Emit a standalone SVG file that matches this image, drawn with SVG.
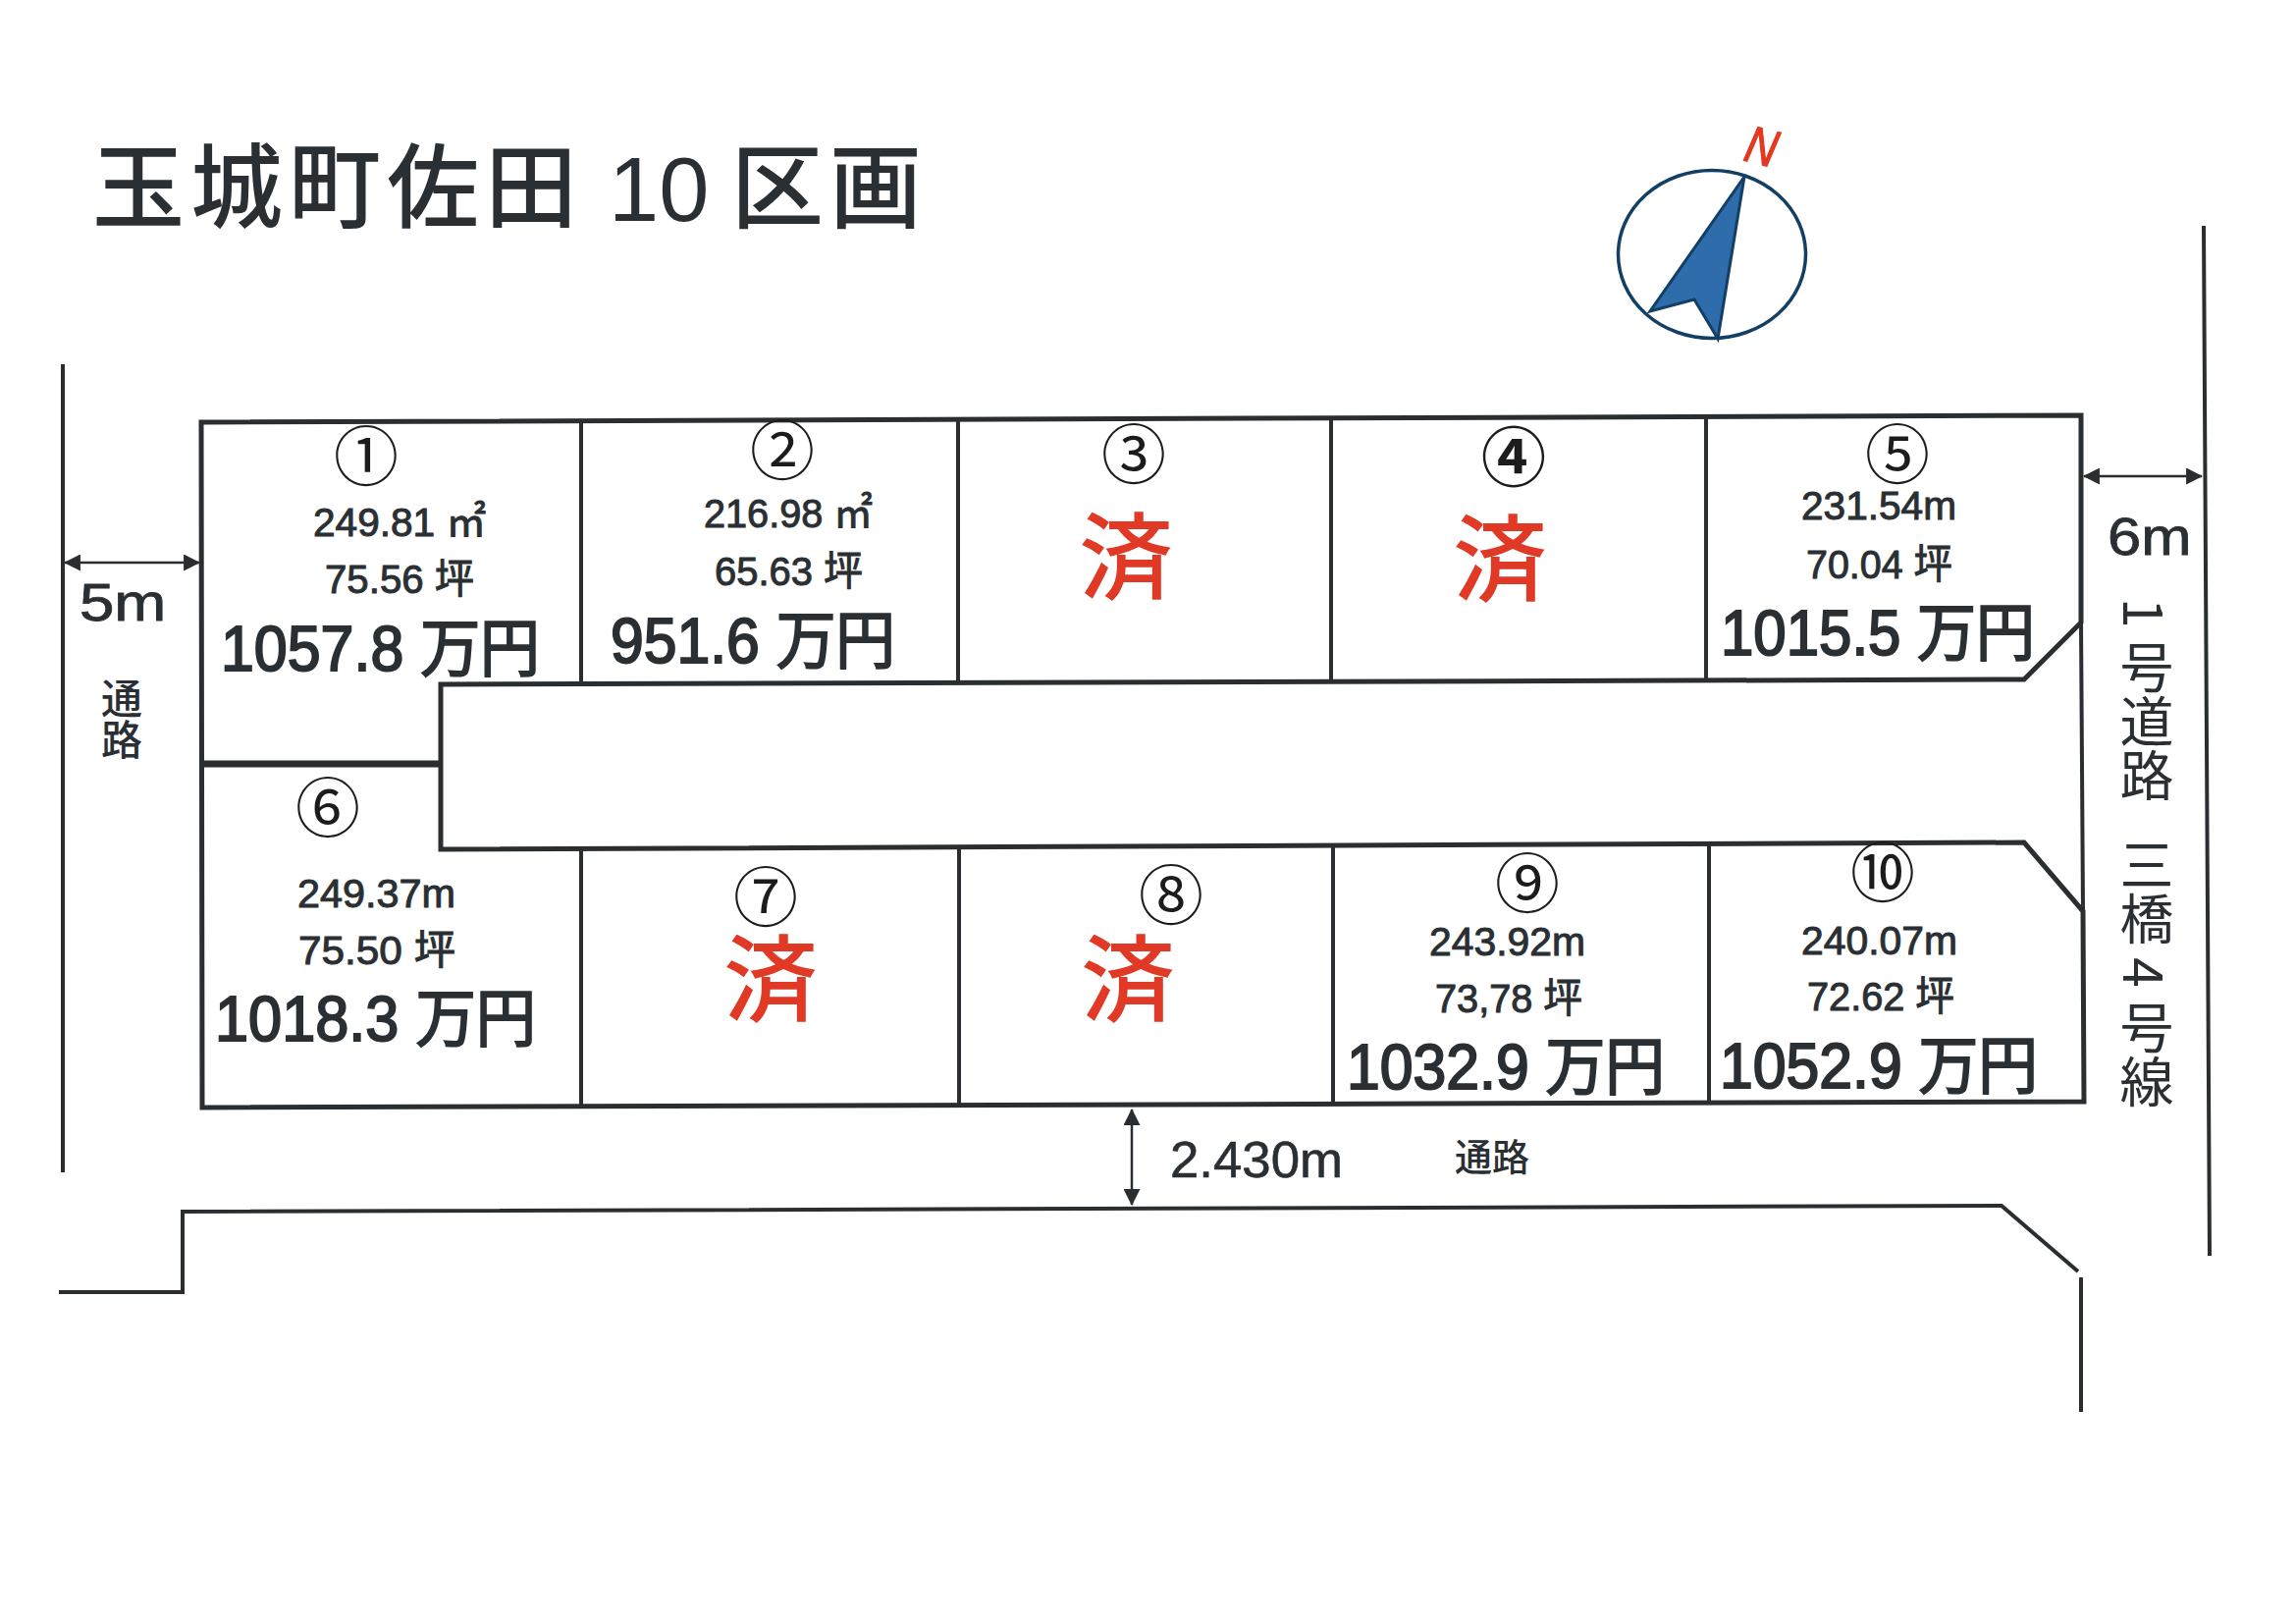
<svg xmlns="http://www.w3.org/2000/svg" width="2339" height="1653" viewBox="0 0 2339 1653">
<style>
text{font-family:"Liberation Sans","Noto Sans CJK JP",sans-serif;fill:#2a2f33}
.jp{font-family:"Noto Sans CJK JP","Liberation Sans",sans-serif}
.num{font-family:"DejaVu Serif","Noto Sans CJK JP",serif;font-size:66px;text-anchor:middle;fill:#1c1c1c}
.area{font-size:41px;stroke:#2a2f33;stroke-width:1px}
.price{font-size:64px;stroke:#2a2f33;stroke-width:2px}
.sold{font-family:"Noto Sans CJK JP",sans-serif;font-size:96px;font-weight:500;text-anchor:middle;fill:#e03a26}
.dim{font-size:53px;stroke:#2a2f33;stroke-width:.8px}
.ln{fill:none;stroke:#2b2e30;stroke-width:5;stroke-linejoin:miter}
.thin{fill:none;stroke:#2b2e30;stroke-width:4}
.dimline{fill:none;stroke:#2b2e30;stroke-width:2.5;marker-start:url(#arr);marker-end:url(#arr)}
</style>
<defs>
<marker id="arr" viewBox="0 0 16 16" refX="15" refY="8" markerWidth="17" markerHeight="17" markerUnits="userSpaceOnUse" orient="auto-start-reverse"><path d="M0 0L16 8L0 16Z" fill="#2b2e30"/></marker>
</defs>
<rect width="2339" height="1653" fill="#fff"/>
<g id="title">
<text class="jp" y="225" font-size="94" font-weight="500"><tspan x="94" letter-spacing="6">玉城町佐田</tspan><tspan x="620" font-family="Liberation Sans" font-size="92" font-weight="400">10</tspan><tspan x="745" letter-spacing="6">区画</tspan></text>
</g>
<g id="compass">
<ellipse cx="1744" cy="259" rx="95.5" ry="85.5" fill="#fff" stroke="#123f63" stroke-width="3.5"/>
<path d="M1777 180L1681 317L1726 305L1750 345Z" fill="#2e6cab" stroke="#123f63" stroke-width="3"/>
<text transform="translate(1775 163) rotate(14) scale(.95 1.15)" font-size="46" font-style="italic" style="fill:#e3391f;stroke:#e3391f;stroke-width:1.2px">N</text>
</g>
<g id="connectors">
<path id="site-outline" class="ln" d="M205 430L2120 423L2120 634L2062 692L449 697L449 865L2062 858L2122 928L2123 1122L206 1128Z"/>
<path class="thin" d="M2120 634L2122 928"/>
<path class="thin" d="M592 430V697M976 428V697M1356 427V695M1738 425V694"/>
<path class="thin" d="M592 865V1128M977 865V1127M1358 862V1125M1741 860V1123"/>
<path class="ln" style="stroke-width:7" d="M206 778H449"/>
<path class="thin" d="M64 371V1194M2245 230L2251 1279"/>
<path class="thin" d="M60 1316H186V1234L2039 1228L2117 1295M2120 1301V1438"/>
<path class="dimline" d="M66 573H203"/>
<path class="dimline" d="M2123 485H2243"/>
<path class="dimline" d="M1153 1130V1227"/>
</g>
<g id="road-labels">
<text class="dim" transform="translate(81 632) scale(1.2 1)">5m</text>
<text class="jp" x="124" y="690" font-size="42" font-weight="500" style="writing-mode:vertical-rl">通路</text>
<text class="dim" transform="translate(2147 565) scale(1.16 1)">6m</text>
<text class="jp" x="2187" y="609" font-size="55" style="writing-mode:vertical-rl">1 号道路</text>
<text class="jp" x="2187" y="853" font-size="55" style="writing-mode:vertical-rl">三橋 4 号線</text>
<text x="1192" y="1199" font-size="52" textLength="176" lengthAdjust="spacingAndGlyphs" style="stroke:#2a2f33;stroke-width:.6px">2.430m</text>
<text class="jp" x="1482" y="1192" font-size="38" font-weight="500">通路</text>
</g>
<g id="lot1"><text class="num" x="373" y="489">①</text>
<text class="area" x="319" y="546" textLength="176" lengthAdjust="spacingAndGlyphs">249.81 ㎡</text>
<text class="area" x="331" y="604" textLength="152" lengthAdjust="spacingAndGlyphs">75.56 坪</text>
<text class="price" x="225" y="683" textLength="325" lengthAdjust="spacingAndGlyphs">1057.8 万円</text></g>
<g id="lot2"><text class="num" x="797" y="483">②</text>
<text class="area" x="717" y="537" textLength="172" lengthAdjust="spacingAndGlyphs">216.98 ㎡</text>
<text class="area" x="728" y="596" textLength="151" lengthAdjust="spacingAndGlyphs">65.63 坪</text>
<text class="price" x="622" y="675" textLength="290" lengthAdjust="spacingAndGlyphs">951.6 万円</text></g>
<g id="lot3"><text class="num" x="1155" y="487">③</text><text class="sold" x="1147" y="602">済</text></g>
<g id="lot4"><text class="num" x="1542" y="490" font-weight="700">④</text><text class="sold" x="1528" y="604">済</text></g>
<g id="lot5"><text class="num" x="1933" y="487">⑤</text>
<text class="area" x="1835" y="529" textLength="158" lengthAdjust="spacingAndGlyphs">231.54m</text>
<text class="area" x="1840" y="589" textLength="149" lengthAdjust="spacingAndGlyphs">70.04 坪</text>
<text class="price" x="1753" y="667" textLength="320" lengthAdjust="spacingAndGlyphs">1015.5 万円</text></g>
<g id="lot6"><text class="num" x="334" y="847">⑥</text>
<text class="area" x="303" y="924" textLength="161" lengthAdjust="spacingAndGlyphs">249.37m</text>
<text class="area" x="304" y="982" textLength="160" lengthAdjust="spacingAndGlyphs">75.50 坪</text>
<text class="price" x="219" y="1060" textLength="327" lengthAdjust="spacingAndGlyphs">1018.3 万円</text></g>
<g id="lot7"><text class="num" x="780" y="938">⑦</text><text class="sold" x="785" y="1032">済</text></g>
<g id="lot8"><text class="num" x="1193" y="936">⑧</text><text class="sold" x="1149" y="1032">済</text></g>
<g id="lot9"><text class="num" x="1556" y="924">⑨</text>
<text class="area" x="1456" y="973" textLength="159" lengthAdjust="spacingAndGlyphs">243.92m</text>
<text class="area" x="1462" y="1031" textLength="150" lengthAdjust="spacingAndGlyphs">73,78 坪</text>
<text class="price" x="1372" y="1109" textLength="324" lengthAdjust="spacingAndGlyphs">1032.9 万円</text></g>
<g id="lot10"><text class="num" x="1918" y="913">⑩</text>
<text class="area" x="1835" y="972" textLength="159" lengthAdjust="spacingAndGlyphs">240.07m</text>
<text class="area" x="1841" y="1029" textLength="150" lengthAdjust="spacingAndGlyphs">72.62 坪</text>
<text class="price" x="1752" y="1108" textLength="324" lengthAdjust="spacingAndGlyphs">1052.9 万円</text></g>
</svg>
